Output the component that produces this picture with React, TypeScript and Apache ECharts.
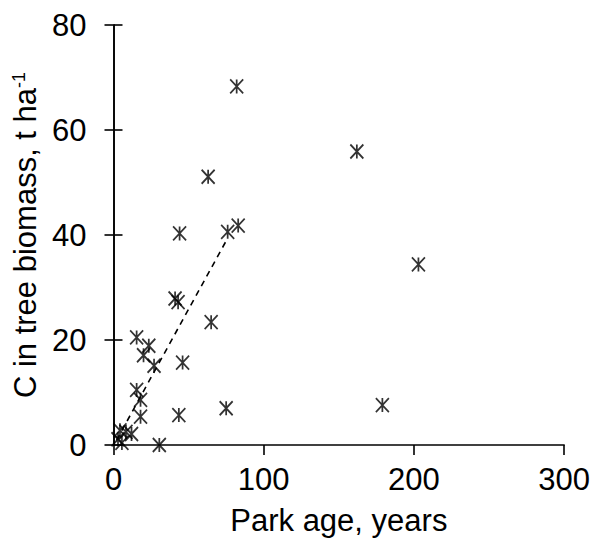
import React, { useEffect, useRef } from "react";
import * as echarts from "echarts";

// Park age (years) and carbon stored in tree biomass (t/ha) for each park
const parkAge = [
  82, 162, 63, 203, 44, 76, 83, 41, 43, 65, 15.4, 23.5, 20, 27, 46, 15.4, 18,
  18, 43.5, 75, 179, 30.5, 4.3, 8.3, 12, 3, 5.6,
];
const carbon = [
  68.3, 55.9, 51.1, 34.4, 40.3, 40.6, 41.8, 27.9, 27.2, 23.4, 20.5, 18.9, 17.1,
  15.1, 15.7, 10.5, 8.6, 5.4, 5.7, 7.0, 7.6, 0.0, 2.8, 2.5, 2.1, 1.1, 0.4,
];

// Linear trend fitted over the younger parks
const trendAge = [2, 76];
const trendCarbon = [0.9, 39.4];

const xTicks = [0, 100, 200, 300];
const yTicks = [0, 20, 40, 60, 80];

const FONT = "'Liberation Sans', Arial, sans-serif";
const FS = 31;

export default function App() {
  const ref = useRef<HTMLDivElement>(null);

  useEffect(() => {
    if (!ref.current) return;
    const chart = echarts.init(ref.current, null, { renderer: "svg" });
    const axisLine = { lineStyle: { color: "#000", width: 1.6 } };
    const yBase = {
      type: "value" as const,
      min: yTicks[0],
      max: yTicks[yTicks.length - 1],
      interval: yTicks[1] - yTicks[0],
      splitLine: { show: false },
      axisLine: { show: true, ...axisLine },
    };
    chart.setOption({
      animation: false,
      backgroundColor: "#fff",
      textStyle: { fontFamily: FONT },
      grid: { left: 113.5, right: 27.3, top: 25, bottom: 94, containLabel: false },
      xAxis: {
        type: "value",
        min: xTicks[0],
        max: xTicks[xTicks.length - 1],
        interval: xTicks[1] - xTicks[0],
        name: "Park age, years",
        nameLocation: "middle",
        nameGap: 60,
        nameTextStyle: { fontSize: FS, color: "#000", fontFamily: FONT },
        splitLine: { show: false },
        axisLine: { show: true, onZero: false, ...axisLine },
        axisTick: { show: true, length: 10, lineStyle: { color: "#000", width: 1.6 } },
        axisLabel: { fontSize: FS, color: "#000", margin: 19, fontFamily: FONT },
      },
      yAxis: [
        {
          ...yBase,
          name: "C in tree biomass, t ha{sup|-1}",
          nameLocation: "middle",
          nameGap: 70,
          nameTextStyle: {
            fontSize: FS,
            color: "#000",
            fontFamily: FONT,
            rich: {
              sup: { fontSize: 18, fontFamily: FONT, color: "#000", verticalAlign: "top", padding: [0, 0, 12, 0] },
            },
          },
          axisTick: { show: true, length: 9, lineStyle: { color: "#000", width: 1.6 } },
          axisLabel: { fontSize: FS, color: "#000", margin: 27, fontFamily: FONT },
        },
        {
          ...yBase,
          position: "left",
          axisTick: { show: true, inside: true, length: 9, lineStyle: { color: "#000", width: 1.6 } },
          axisLabel: { show: false },
        },
      ],
      series: [
        {
          type: "scatter",
          data: parkAge.map((a, i) => [a, carbon[i]]),
          symbol: "path://M0 0L10 10M10 0L0 10M5 0L5 10",
          symbolSize: [13, 14],
          itemStyle: { color: "none", borderColor: "#000", borderWidth: 1.8 },
          z: 3,
        },
        {
          type: "line",
          data: trendAge.map((a, i) => [a, trendCarbon[i]]),
          symbol: "none",
          lineStyle: { color: "#000", width: 1.6, type: [6, 5] },
          z: 2,
        },
      ],
    });
    return () => chart.dispose();
  }, []);

  return (
    <div
      ref={ref}
      style={{ position: "fixed", left: 0, top: 0, width: 593, height: 541, background: "#fff" }}
    />
  );
}
